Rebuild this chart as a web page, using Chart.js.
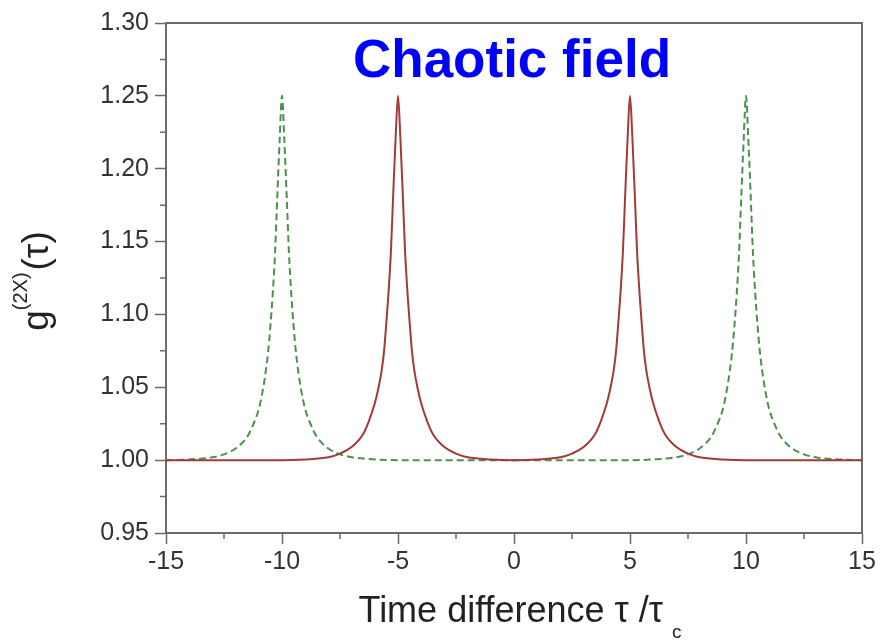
<!DOCTYPE html>
<html>
<head>
<meta charset="utf-8">
<script src="https://cdn.jsdelivr.net/npm/chart.js@4.4.1/dist/chart.umd.min.js"></script>
<style>
  body { margin: 0; background: #fff; }
  #wrap { width: 880px; height: 641px; }
</style>
</head>
<body>
<div id="wrap"><canvas id="chart" width="880" height="641"></canvas></div>
<script>
// tick labels
const xTicks = [-15, -10, -5, 0, 5, 10, 15];
const yTicks = [0.95, 1.00, 1.05, 1.10, 1.15, 1.20, 1.25, 1.30];

// solid red curve, peaks at +/-5
const tauRed = [-15, -12, -10, -9, -8, -7.5, -7, -6.5, -6.25, -6, -5.85, -5.7, -5.6, -5.5, -5.4, -5.3, -5.2, -5.1, -5,
    -4.9, -4.8, -4.7, -4.6, -4.5, -4.4, -4.3, -4.15, -4, -3.75, -3.5, -3, -2.5, -2, -1, 0,
    1, 2, 2.5, 3, 3.5, 3.75, 4, 4.15, 4.3, 4.4, 4.5, 4.6, 4.7, 4.8, 4.9, 5,
    5.1, 5.2, 5.3, 5.4, 5.5, 5.6, 5.7, 5.85, 6, 6.25, 6.5, 7, 7.5, 8, 9, 10, 12, 15];
const gRed = [1.000, 1.000, 1.000, 1.0005, 1.002, 1.0045, 1.009, 1.018, 1.027, 1.039, 1.049, 1.062, 1.075, 1.095, 1.117, 1.145, 1.185, 1.222, 1.250,
    1.222, 1.185, 1.145, 1.117, 1.095, 1.075, 1.062, 1.049, 1.039, 1.027, 1.018, 1.009, 1.0045, 1.002, 1.0005, 1.000,
    1.0005, 1.002, 1.0045, 1.009, 1.018, 1.027, 1.039, 1.049, 1.062, 1.075, 1.095, 1.117, 1.145, 1.185, 1.222, 1.250,
    1.222, 1.185, 1.145, 1.117, 1.095, 1.075, 1.062, 1.049, 1.039, 1.027, 1.018, 1.009, 1.0045, 1.002, 1.0005, 1.000, 1.000, 1.000];

// dashed green curve, peaks at +/-10
const tauGreen = [-15, -14, -13, -12.5, -12, -11.5, -11.25, -11, -10.85, -10.7, -10.6, -10.5, -10.4, -10.3, -10.2, -10.1, -10,
    -9.9, -9.8, -9.7, -9.6, -9.5, -9.4, -9.3, -9.15, -9, -8.75, -8.5, -8, -7.5, -7, -6, -5, -2.5, 0,
    2.5, 5, 6, 7, 7.5, 8, 8.5, 8.75, 9, 9.15, 9.3, 9.4, 9.5, 9.6, 9.7, 9.8, 9.9, 10,
    10.1, 10.2, 10.3, 10.4, 10.5, 10.6, 10.7, 10.85, 11, 11.25, 11.5, 12, 12.5, 13, 14, 15];
const gGreen = [1.000, 1.0005, 1.002, 1.004, 1.008, 1.016, 1.024, 1.035, 1.046, 1.061, 1.074, 1.092, 1.114, 1.142, 1.182, 1.220, 1.250,
    1.220, 1.182, 1.142, 1.114, 1.092, 1.074, 1.061, 1.046, 1.035, 1.024, 1.016, 1.008, 1.004, 1.002, 1.0005, 1.000, 1.000, 1.000,
    1.000, 1.000, 1.0005, 1.002, 1.004, 1.008, 1.016, 1.024, 1.035, 1.046, 1.061, 1.074, 1.092, 1.114, 1.142, 1.182, 1.220, 1.250,
    1.220, 1.182, 1.142, 1.114, 1.092, 1.074, 1.061, 1.046, 1.035, 1.024, 1.016, 1.008, 1.004, 1.002, 1.0005, 1.000];

const AXIS = '#6b6b6b';
const FONT = '"Liberation Sans", Arial, sans-serif';

// frame, minor ticks and the text drawn on top
const decorations = {
    id: 'decorations',
    afterDraw: (chart) => {
        const ctx = chart.ctx;
        const { top, left, right, bottom } = chart.chartArea;
        const sx = chart.scales.x;
        const sy = chart.scales.y;
        ctx.save();
        ctx.strokeStyle = AXIS;
        ctx.lineWidth = 2;
        ctx.beginPath();
        ctx.moveTo(left, top);
        ctx.lineTo(right, top);
        ctx.lineTo(right, bottom);
        ctx.stroke();

        // minor ticks halfway between the labelled ones
        ctx.lineWidth = 1.5;
        ctx.beginPath();
        for (let i = 0; i < xTicks.length - 1; i++) {
            const px = sx.getPixelForValue((xTicks[i] + xTicks[i + 1]) / 2);
            ctx.moveTo(px, bottom);
            ctx.lineTo(px, bottom + 6);
        }
        for (let i = 0; i < yTicks.length - 1; i++) {
            const py = sy.getPixelForValue((yTicks[i] + yTicks[i + 1]) / 2);
            ctx.moveTo(left, py);
            ctx.lineTo(left - 6, py);
        }
        ctx.stroke();

        // title
        ctx.fillStyle = '#0000ff';
        ctx.font = 'bold 53px ' + FONT;
        ctx.textAlign = 'center';
        ctx.textBaseline = 'alphabetic';
        ctx.fillText('Chaotic field', 512, 77);

        // x axis title with subscript
        ctx.fillStyle = '#222';
        ctx.textAlign = 'left';
        ctx.font = '36px ' + FONT;
        const main = 'Time difference \u03c4 /\u03c4';
        const wMain = ctx.measureText(main).width;
        ctx.font = '19px ' + FONT;
        const wSub = ctx.measureText('c').width;
        const x0 = 520 - (wMain + 9 + wSub) / 2;
        ctx.font = '36px ' + FONT;
        ctx.fillText(main, x0, 622);
        ctx.font = '19px ' + FONT;
        ctx.fillText('c', x0 + wMain + 9, 638);

        // y axis title with superscript, rotated
        ctx.translate(48, 281);
        ctx.rotate(-Math.PI / 2);
        ctx.font = '37px ' + FONT;
        const wg = ctx.measureText('g').width;
        const wt = ctx.measureText('(\u03c4)').width;
        ctx.font = '20px ' + FONT;
        const ws = ctx.measureText('(2X)').width;
        let p = -(wg + ws + wt + 2) / 2;
        ctx.font = '37px ' + FONT;
        ctx.fillText('g', p, 0);
        p += wg;
        ctx.font = '20px ' + FONT;
        ctx.fillText('(2X)', p, -21);
        p += ws + 2;
        ctx.font = '37px ' + FONT;
        ctx.fillText('(\u03c4)', p, 0);
        ctx.restore();
    },
};

new Chart(document.getElementById('chart'), {
    type: 'line',
    data: {
        datasets: [
            {
                label: 'red',
                data: tauRed.map((t, i) => ({ x: t, y: gRed[i] })),
                borderColor: '#a23a3a',
                borderWidth: 2,
                pointRadius: 0,
                cubicInterpolationMode: 'monotone',
            },
            {
                label: 'green',
                data: tauGreen.map((t, i) => ({ x: t, y: gGreen[i] })),
                borderColor: '#4f8f4f',
                borderWidth: 2,
                borderDash: [7, 4],
                pointRadius: 0,
                cubicInterpolationMode: 'monotone',
            },
        ],
    },
    plugins: [decorations],
    options: {
        responsive: false,
        animation: false,
        layout: { padding: { left: 0, top: 23, right: 18, bottom: 0 } },
        plugins: {
            legend: { display: false },
            tooltip: { enabled: false },
        },
        scales: {
            x: {
                type: 'linear',
                min: -15,
                max: 15,
                afterBuildTicks: (scale) => {
                    scale.ticks = xTicks.map((v) => ({ value: v }));
                },
                afterFit: (scale) => {
                    scale.height = 108;
                },
                border: { display: true, color: AXIS, width: 2 },
                grid: { drawOnChartArea: false, drawTicks: true, tickLength: 11, tickColor: AXIS, tickWidth: 1.5 },
                ticks: {
                    color: '#333',
                    padding: 3,
                    maxRotation: 0,
                    font: { family: FONT, size: 25 },
                    callback: (v) => String(v),
                },
            },
            y: {
                min: 0.95,
                max: 1.30,
                afterBuildTicks: (scale) => {
                    scale.ticks = yTicks.map((v) => ({ value: v }));
                },
                afterFit: (scale) => {
                    scale.width = 166;
                },
                border: { display: true, color: AXIS, width: 2 },
                grid: { drawOnChartArea: false, drawTicks: true, tickLength: 11, tickColor: AXIS, tickWidth: 1.5 },
                ticks: {
                    color: '#333',
                    padding: 6,
                    font: { family: FONT, size: 25 },
                    callback: (v) => v.toFixed(2),
                },
            },
        },
    },
});
</script>
</body>
</html>
